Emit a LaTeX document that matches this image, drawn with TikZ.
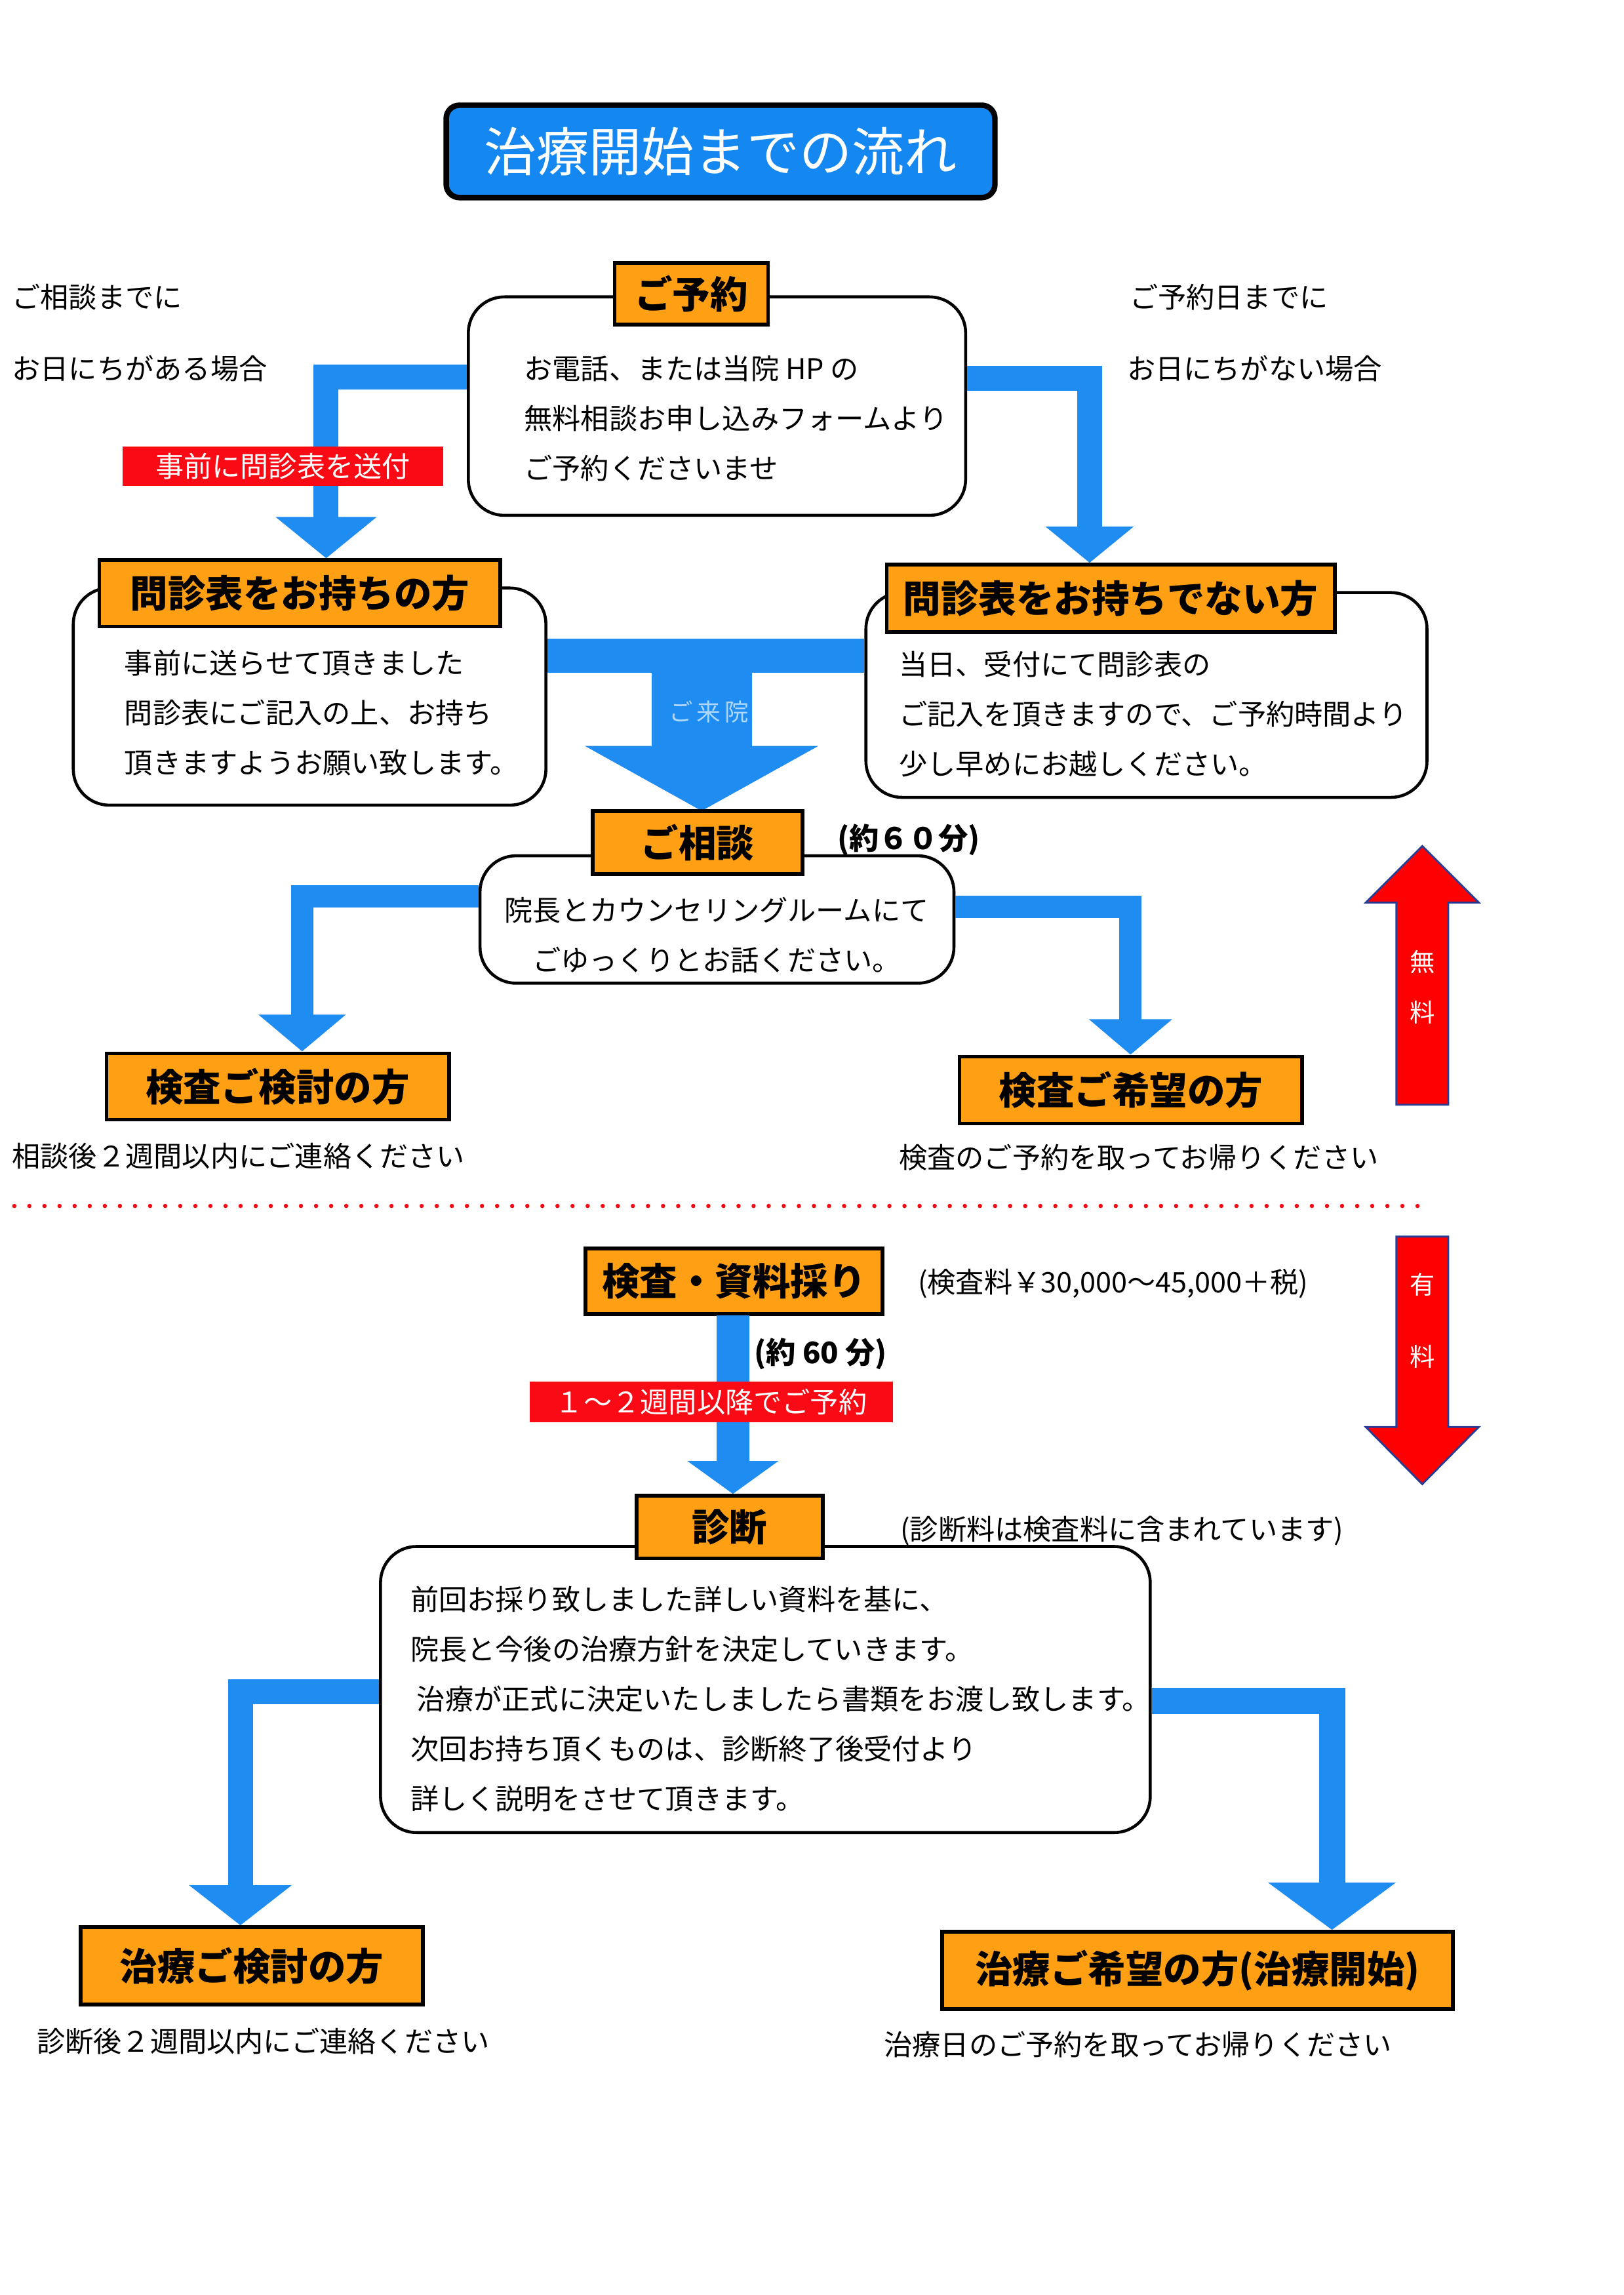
\documentclass[tikz,border=0pt]{standalone}
\usepackage{fontspec}
\setmainfont{Noto Sans CJK JP}
\usetikzlibrary{arrows.meta}
\definecolor{flowblue}{RGB}{30,140,240}
\definecolor{titleblue}{RGB}{20,135,240}
\definecolor{orgc}{RGB}{255,160,20}
\definecolor{labred}{RGB}{250,10,20}
\definecolor{arrred}{RGB}{255,0,0}
\definecolor{arrblue}{RGB}{40,60,150}
\definecolor{palebl}{RGB}{175,215,250}
\newcommand\myBody{\fontsize{12.4pt}{21.8pt}\selectfont}
\newcommand\myLabel{\fontsize{16.5pt}{20pt}\selectfont\bfseries}
\tikzset{
  x=0.01cm, y=-0.01cm,
  titlebox/.style={draw=black, line width=2.4pt, fill=titleblue, rounded corners=0.2cm,
    minimum width=8.44cm, minimum height=1.42cm, inner sep=0pt, text=white,
    font=\fontsize{23pt}{28pt}\selectfont},
  orangebox/.style={draw=black, line width=1.6pt, fill=orgc, inner sep=0pt, font=\myLabel},
  roundbox/.style={draw=black, line width=1.3pt, fill=white, rounded corners=0.55cm, inner sep=0pt},
  bodytext/.style={inner sep=0pt, anchor=west, align=left, font=\myBody},
  boldnote/.style={inner sep=0pt, anchor=west, font=\fontsize{13pt}{16pt}\selectfont\bfseries},
  bluearrow/.style={draw=flowblue, line width=0.38cm},
  redlabel/.style={fill=labred, text=white, inner sep=0pt, font=\myBody},
  redarrow/.style={fill=arrred, draw=arrblue, line width=0.8pt, line join=miter},
  feetext/.style={text=white, inner sep=0pt, font=\fontsize{11pt}{13pt}\selectfont},
}
\begin{document}
\begin{tikzpicture}[scale=0.991, every node/.append style={transform shape}]
\useasboundingbox[fill=white] (0,0) rectangle (2499.5,3531.8);

% title
\node[titlebox] (title) at (1109,233) {治療開始までの流れ};

% reservation
\node[roundbox, minimum width=7.65cm, minimum height=3.36cm] (rr1) at (1103.5,625) {};
\node[orangebox, minimum width=2.36cm, minimum height=0.95cm] (yoyaku) at (1064,452) {ご予約};
\node[bodytext] (t1) at (806,644) {お電話、または当院 HP の\\無料相談お申し込みフォームより\\ご予約くださいませ};

\node[bodytext] (lt1) at (18,457) {ご相談までに};
\node[bodytext] (lt2) at (18,567) {お日にちがある場合};
\node[bodytext] (rt1) at (1738,457) {ご予約日までに};
\node[bodytext] (rt2) at (1734,567) {お日にちがない場合};

% questionnaire boxes
\node[roundbox, minimum width=7.27cm, minimum height=3.34cm] (rrL) at (476.5,1072) {};
\node[orangebox, minimum width=6.17cm, minimum height=1.02cm] (mochi) at (461.5,913) {問診表をお持ちの方};
\node[bodytext] (tL) at (191,1097) {事前に送らせて頂きました\\問診表にご記入の上、お持ち\\頂きますようお願い致します。};

\node[roundbox, minimum width=8.63cm, minimum height=3.15cm] (rrR) at (1764.5,1069.5) {};
\node[orangebox, minimum width=6.89cm, minimum height=1.04cm] (nai) at (1709.5,921) {問診表をお持ちでない方};
\node[bodytext] (tR) at (1383,1099) {当日、受付にて問診表の\\ご記入を頂きますので、ご予約時間より\\少し早めにお越しください。};

% arrows from reservation
\draw[bluearrow, -{Triangle[width=1.51cm,length=0.63cm]}] (rr1.west |- 0,580) -| (mochi.north -| 502,0);
\draw[bluearrow, -{Triangle[width=1.31cm,length=0.55cm]}] (rr1.east |- 0,582) -| (nai.north -| 1677,0);
\node[redlabel, minimum width=4.93cm, minimum height=0.61cm] (sousin) at (435.5,717.5) {事前に問診表を送付};

% consultation
\draw[draw=flowblue, line width=0.52cm] (rrL.east |- 0,1009) -- (rrR.west |- 0,1009);
\coordinate (tj) at (1080,1009);
\coordinate (soudantop) at (1080,1248);
\draw[draw=flowblue, line width=1.53cm, -{Triangle[width=3.52cm,length=0.99cm]}] (tj) -- (soudantop);
\node[text=palebl, inner sep=0pt, font=\fontsize{10.5pt}{12pt}\selectfont] (raiin) at (1091,1095) {ご\,来\,院};

\node[roundbox, minimum width=7.29cm, minimum height=1.96cm] (rr2) at (1103.5,1415) {};
\node[orangebox, minimum width=3.23cm, minimum height=0.97cm] (soudan) at (1073.5,1296.5) {ご相談};
\node[boldnote] (min60a) at (1288,1292) {(約６０分)};
\node[inner sep=0pt, align=center, font=\myBody] (t2) at (1103,1439) {院長とカウンセリングルームにて\\ごゆっくりとお話ください。};

\node[orangebox, minimum width=5.27cm, minimum height=1.02cm] (kentou) at (427.5,1672) {検査ご検討の方};
\node[orangebox, minimum width=5.27cm, minimum height=1.03cm] (kibou) at (1740.5,1677.5) {検査ご希望の方};
\draw[bluearrow, line width=0.34cm, -{Triangle[width=1.30cm,length=0.56cm]}] (rr2.west |- 0,1379) -| (kentou.north -| 465,0);
\draw[bluearrow, line width=0.34cm, -{Triangle[width=1.24cm,length=0.54cm]}] (rr2.east |- 0,1396) -| (kibou.north -| 1740,0);
\node[bodytext] (n1) at (18,1779) {相談後２週間以内にご連絡ください};
\node[bodytext] (n2) at (1383,1781) {検査のご予約を取ってお帰りください};

% free / paid arrows
\draw[redarrow] (2189,1302) -- (2276,1389) -- (2229,1389) -- (2229,1700) -- (2149,1700) -- (2149,1389) -- (2102,1389) -- cycle;
\node[feetext] (mu1) at (2189,1480) {無};
\node[feetext] (mu2) at (2189,1558) {料};
\draw[redarrow] (2189,2284) -- (2276,2196) -- (2229,2196) -- (2229,1903) -- (2149,1903) -- (2149,2196) -- (2102,2196) -- cycle;
\node[feetext] (yu1) at (2189,1977) {有};
\node[feetext] (yu2) at (2189,2088) {料};

% dotted separator
\coordinate (dl) at (22,1856);
\coordinate (dr) at (2202,1856);
\draw[labred, line width=0.065cm, line cap=round, dash pattern=on 0pt off 0.23cm] (dl) -- (dr);

% examination
\node[orangebox, minimum width=4.57cm, minimum height=1.01cm] (shiryo) at (1129.5,1971.5) {検査・資料採り};
\node[bodytext] (fee) at (1412,1975) {(検査料￥30,000～45,000＋税)};
\node[orangebox, minimum width=2.86cm, minimum height=0.96cm] (shindan0) at (1123,2350) {};
\draw[bluearrow, line width=0.5cm, -{Triangle[width=1.36cm,length=0.5cm]}] (shiryo.south -| 1128,0) -- (shindan0.north -| 1128,0);
\node[boldnote] (min60b) at (1160,2083) {(約 60 分)};
\node[redlabel, minimum width=5.59cm, minimum height=0.63cm] (yoyaku2) at (1094.5,2157.5) {１～２週間以降でご予約};
\node[bodytext] (shnote) at (1385,2356) {(診断料は検査料に含まれています)};

% diagnosis
\node[roundbox, minimum width=11.84cm, minimum height=4.40cm] (rr3) at (1178,2600) {};
\node[orangebox, minimum width=2.86cm, minimum height=0.96cm] (shindan) at (1123,2350) {診断};
\node[bodytext] (t3) at (631,2615) {前回お採り致しました詳しい資料を基に、\\院長と今後の治療方針を決定していきます。\\\hspace*{0.1cm}治療が正式に決定いたしましたら書類をお渡し致します。\\次回お持ち頂くものは、診断終了後受付より\\詳しく説明をさせて頂きます。};

\node[orangebox, minimum width=5.27cm, minimum height=1.19cm] (ckentou) at (387.5,3025.5) {治療ご検討の方};
\node[orangebox, minimum width=7.86cm, minimum height=1.19cm] (ckibou) at (1843,3032.5) {治療ご希望の方(治療開始)};
\draw[bluearrow, -{Triangle[width=1.53cm,length=0.61cm]}] (rr3.west |- 0,2603) -| (ckentou.north -| 370,0);
\draw[bluearrow, line width=0.4cm, -{Triangle[width=1.91cm,length=0.72cm]}] (rr3.east |- 0,2618) -| (ckibou.north -| 2050,0);
\node[bodytext] (n3) at (56,3141) {診断後２週間以内にご連絡ください};
\node[bodytext] (n4) at (1360,3146) {治療日のご予約を取ってお帰りください};
\end{tikzpicture}
\end{document}
